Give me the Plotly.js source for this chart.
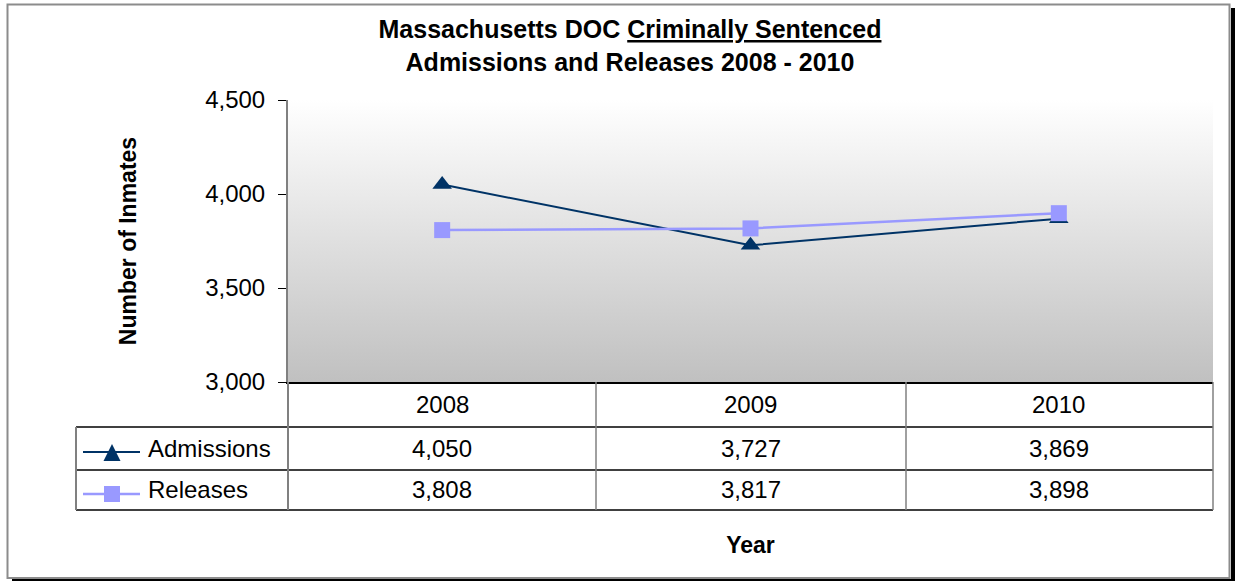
<!DOCTYPE html>
<html>
<head>
<meta charset="utf-8">
<script src="https://cdn.plot.ly/plotly-3.0.1.min.js"></script>
<style>
  html, body { margin: 0; padding: 0; background: #ffffff; }
  #chart { width: 1235px; height: 581px; }
</style>
</head>
<body>
<div id="chart"></div>
<script>
// ---- data ----
const years = ['2008', '2009', '2010'];
const admissions = [4050, 3727, 3869];
const releases = [3808, 3817, 3898];
const seriesNames = ['Admissions', 'Releases'];
const yTickValues = [3000, 3500, 4000, 4500];

// ---- geometry helpers (pixel -> paper) ----
const W = 1235, H = 581;
const L = 288, R = 1213, T = 100, B = 382;
const px = v => (v - L) / (R - L);
const py = v => (B - v) / (B - T);

const FONT = 'Liberation Sans, Arial, Helvetica, sans-serif';
const ADM_COLOR = '#003366';
const REL_COLOR = '#9999ff';

const traces = [
  {
    x: years, y: admissions, name: seriesNames[0], type: 'scatter', mode: 'lines+markers',
    line: { color: ADM_COLOR, width: 2 },
    marker: { symbol: 'triangle-up', size: 17, color: ADM_COLOR, line: { width: 0 } },
    cliponaxis: false
  },
  {
    x: years, y: releases, name: seriesNames[1], type: 'scatter', mode: 'lines+markers',
    line: { color: REL_COLOR, width: 2.5 },
    marker: { symbol: 'square', size: 16, color: REL_COLOR, line: { width: 0 } },
    cliponaxis: false
  }
];

// table row geometry (pixels)
const rowHeaderTop = 382, row1Top = 427, row2Top = 470, tableBottom = 510;
const tableLeft = 76;
const colLines = [L, 596, 906, R];

const shapes = [];
const lineShape = (x0, y0, x1, y1, color, width) => ({
  type: 'line', xref: 'paper', yref: 'paper',
  x0: px(x0), y0: py(y0), x1: px(x1), y1: py(y1),
  line: { color: color, width: width }
});
// horizontal table lines
shapes.push(lineShape(tableLeft, row1Top, R, row1Top, '#000000', 1.5));
shapes.push(lineShape(tableLeft, row2Top, R, row2Top, '#000000', 1.5));
shapes.push(lineShape(tableLeft, tableBottom, R, tableBottom, '#000000', 1.5));
// vertical table lines
shapes.push(lineShape(tableLeft, row1Top, tableLeft, tableBottom, '#808080', 2));
shapes.push(lineShape(L, B, L, tableBottom, '#808080', 2));
shapes.push(lineShape(colLines[1], B, colLines[1], tableBottom, '#808080', 1.5));
shapes.push(lineShape(colLines[2], B, colLines[2], tableBottom, '#808080', 1.5));
shapes.push(lineShape(R, B, R, tableBottom, '#808080', 1.5));

// legend keys inside table
const keyY = [452, 494];
shapes.push(lineShape(83, keyY[0], 140, keyY[0], ADM_COLOR, 2));
shapes.push(lineShape(83, keyY[1], 140, keyY[1], REL_COLOR, 2.5));
shapes.push({
  type: 'path', xref: 'paper', yref: 'paper',
  path: `M ${px(103.5)} ${py(461)} L ${px(120.5)} ${py(461)} L ${px(112)} ${py(444)} Z`,
  fillcolor: ADM_COLOR, line: { width: 0 }
});
shapes.push({
  type: 'rect', xref: 'paper', yref: 'paper',
  x0: px(104), x1: px(120), y0: py(486), y1: py(502),
  fillcolor: REL_COLOR, line: { width: 0 }
});

// outer frame with shadow
shapes.push({
  type: 'rect', xref: 'paper', yref: 'paper',
  x0: px(1231), x1: px(1235), y0: py(8), y1: py(581),
  fillcolor: '#000000', line: { width: 0 }
});
shapes.push({
  type: 'rect', xref: 'paper', yref: 'paper',
  x0: px(12), x1: px(1235), y0: py(579), y1: py(581),
  fillcolor: '#000000', line: { width: 0 }
});
shapes.push({
  type: 'rect', xref: 'paper', yref: 'paper',
  x0: px(7.5), x1: px(1229.5), y0: py(4.5), y1: py(578),
  line: { color: '#8c8c8c', width: 2 }
});

// table annotations
const annotations = [];
const rowCenters = [(rowHeaderTop + row1Top) / 2, (row1Top + row2Top) / 2, (row2Top + tableBottom) / 2];
const fmt = v => v.toLocaleString('en-US');
const cellFont = { family: FONT, size: 24, color: '#000000' };
years.forEach((yr, i) => {
  // category axes take the category's serial index for annotation positions
  annotations.push({ xref: 'x', yref: 'paper', x: i, y: py(rowCenters[0]), text: yr,
    showarrow: false, xanchor: 'center', yanchor: 'middle', font: cellFont });
  annotations.push({ xref: 'x', yref: 'paper', x: i, y: py(rowCenters[1]), text: fmt(admissions[i]),
    showarrow: false, xanchor: 'center', yanchor: 'middle', font: cellFont });
  annotations.push({ xref: 'x', yref: 'paper', x: i, y: py(rowCenters[2]), text: fmt(releases[i]),
    showarrow: false, xanchor: 'center', yanchor: 'middle', font: cellFont });
});
seriesNames.forEach((nm, i) => {
  annotations.push({ xref: 'paper', yref: 'paper', x: px(146), y: py(rowCenters[i + 1]), text: nm,
    showarrow: false, xanchor: 'left', yanchor: 'middle', font: cellFont });
});

// gradient plot background
const gradSvg = "<svg xmlns='http://www.w3.org/2000/svg' width='100' height='100' preserveAspectRatio='none'>" +
  "<defs><linearGradient id='g' x1='0' y1='0' x2='0' y2='1'>" +
  "<stop offset='0' stop-color='#ffffff'/><stop offset='1' stop-color='#c0c0c0'/>" +
  "</linearGradient></defs><rect width='100' height='100' fill='url(#g)'/></svg>";
const gradUri = 'data:image/svg+xml;charset=utf-8,' + encodeURIComponent(gradSvg);

const layout = {
  width: W, height: H,
  margin: { l: L, r: W - R, t: T, b: H - B, pad: 0 },
  paper_bgcolor: '#ffffff',
  plot_bgcolor: 'rgba(0,0,0,0)',
  font: { family: FONT, size: 24, color: '#000000' },
  showlegend: false,
  title: {
    text: '<b>Massachusetts DOC <u>Criminally Sentenced</u><br>Admissions and Releases 2008 - 2010</b>',
    font: { family: FONT, size: 25, color: '#000000' },
    x: 630 / W, xanchor: 'center', xref: 'container',
    y: 1 - 38 / H, yanchor: 'top', yref: 'container'
  },
  xaxis: {
    type: 'category', categoryorder: 'array', categoryarray: years,
    range: [-0.5, 2.5], fixedrange: true,
    showline: true, linecolor: '#000000', linewidth: 1.5,
    ticks: '', showticklabels: false, showgrid: false, zeroline: false,
    title: { text: 'Year', font: { family: FONT, size: 23, weight: 'bold', color: '#000000' }, standoff: 154 }
  },
  yaxis: {
    range: [3000, 4500], tickvals: yTickValues, tickformat: ',d',
    showline: true, linecolor: '#808080', linewidth: 2,
    ticks: 'outside', ticklen: 8, tickcolor: '#000000', tickwidth: 1,
    ticklabelstandoff: 8,
    tickfont: { family: FONT, size: 24, color: '#000000' },
    showgrid: false, zeroline: false, fixedrange: true,
    title: { text: 'Number of Inmates', font: { family: FONT, size: 23, weight: 'bold', color: '#000000' }, standoff: 62 }
  },
  images: [{
    source: gradUri, xref: 'paper', yref: 'paper', x: 0, y: 1, sizex: 1, sizey: 1,
    xanchor: 'left', yanchor: 'top', sizing: 'stretch', layer: 'below'
  }],
  shapes: shapes,
  annotations: annotations
};

Plotly.newPlot('chart', traces, layout, { displayModeBar: false, staticPlot: true });
</script>
</body>
</html>
